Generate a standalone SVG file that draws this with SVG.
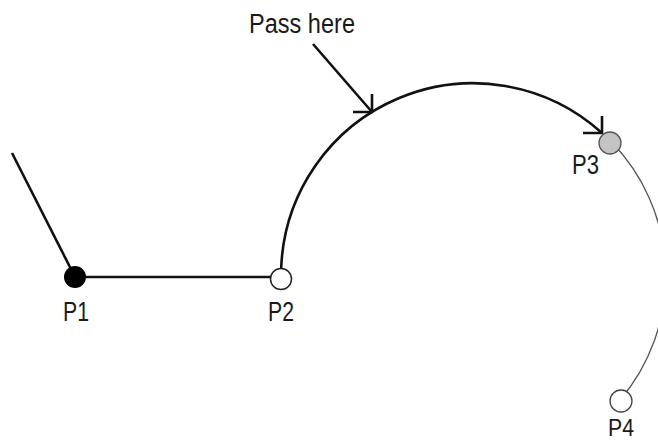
<svg xmlns="http://www.w3.org/2000/svg" width="658" height="443" viewBox="0 0 658 443">
<style>
.lbl{font-family:"Liberation Sans",Arial,sans-serif;font-size:27px;fill:#1a1a1a}
.main{fill:none;stroke:#111;stroke-width:2.6;stroke-linecap:butt}
.thin{fill:none;stroke:#555;stroke-width:1.3}
.head{fill:none;stroke:#111;stroke-width:2.6;stroke-linecap:butt;stroke-linejoin:miter}
</style>
<rect width="658" height="443" fill="#fff"/>
<g id="connectors">
<path class="main" d="M12 153 L75 277"/>
<path class="main" d="M75 277 L281 277"/>
<path class="main" d="M281.2 268 A192 192 0 0 1 602 133"/>
<path class="head" d="M583 133 L602 133 L602 116"/>
<path class="thin" d="M611.3 141.8 A192 192 0 0 1 620 400"/>
<path class="main" d="M313 44 L372 112"/>
<path class="head" d="M353 112 L372 112 L372 94"/>
</g>
<g id="P1"><circle cx="75" cy="277" r="11" fill="#000"/><text class="lbl" x="63" y="321" textLength="26" lengthAdjust="spacingAndGlyphs">P1</text></g>
<g id="P2"><circle cx="281" cy="279" r="10.5" fill="#fff" stroke="#222" stroke-width="1.5"/><text class="lbl" x="268" y="321" textLength="26" lengthAdjust="spacingAndGlyphs">P2</text></g>
<g id="P3"><circle cx="610" cy="143" r="11" fill="#c4c4c4" stroke="#555" stroke-width="1.3"/><text class="lbl" x="572" y="174" textLength="27" lengthAdjust="spacingAndGlyphs">P3</text></g>
<g id="P4"><circle cx="621" cy="401" r="11" fill="#fff" stroke="#444" stroke-width="1.3"/><text class="lbl" x="608" y="436" style="font-size:24px" textLength="26" lengthAdjust="spacingAndGlyphs">P4</text></g>
<g id="label"><text class="lbl" x="249" y="33" textLength="106" lengthAdjust="spacingAndGlyphs">Pass here</text></g>
</svg>
